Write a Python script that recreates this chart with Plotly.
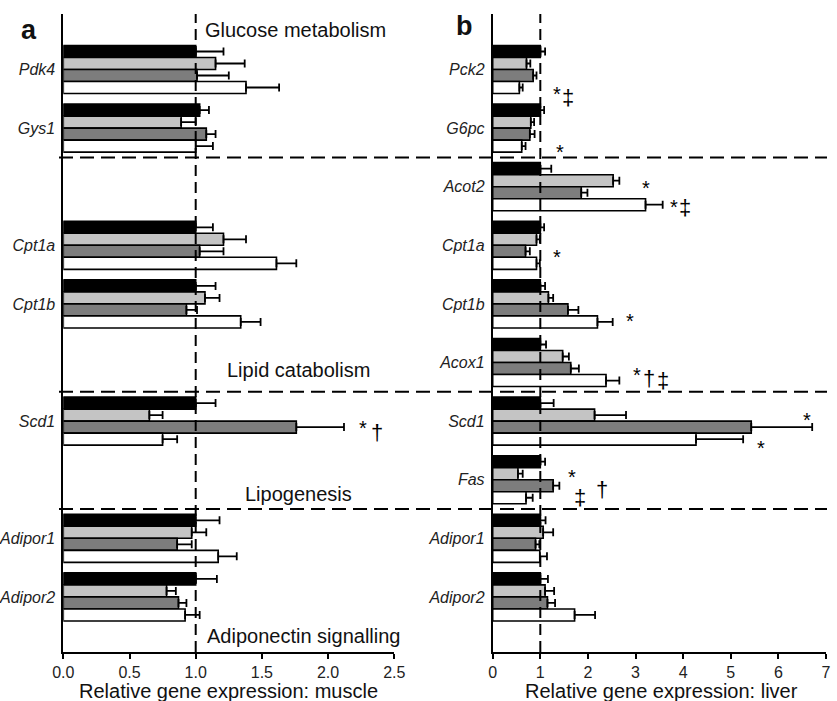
import plotly.graph_objects as go

# ---------------- data ----------------
rows = [0, 1, 2, 3, 4, 5, 6, 7, 8, 9]
muscle_genes = ["Pdk4", "Gys1", "", "Cpt1a", "Cpt1b", "", "Scd1", "", "Adipor1", "Adipor2"]
liver_genes = ["Pck2", "G6pc", "Acot2", "Cpt1a", "Cpt1b", "Acox1", "Scd1", "Fas", "Adipor1", "Adipor2"]
series_names = ["Group 1", "Group 2", "Group 3", "Group 4"]
series_colors = ["#000000", "#c4c4c4", "#7d7d7d", "#ffffff"]

muscle_g1 = [1.00, 1.03, None, 1.00, 1.00, None, 1.00, None, 1.00, 1.00]
muscle_g1_err = [0.21, 0.07, None, 0.13, 0.15, None, 0.15, None, 0.18, 0.16]
muscle_g2 = [1.15, 0.89, None, 1.21, 1.07, None, 0.65, None, 0.97, 0.78]
muscle_g2_err = [0.22, 0.11, None, 0.17, 0.11, None, 0.10, None, 0.11, 0.07]
muscle_g3 = [1.01, 1.08, None, 1.03, 0.93, None, 1.76, None, 0.86, 0.87]
muscle_g3_err = [0.24, 0.07, None, 0.18, 0.08, None, 0.36, None, 0.11, 0.06]
muscle_g4 = [1.38, 1.00, None, 1.61, 1.34, None, 0.75, None, 1.17, 0.92]
muscle_g4_err = [0.25, 0.13, None, 0.15, 0.15, None, 0.11, None, 0.14, 0.11]

liver_g1 = [1.00, 1.00, 1.00, 1.00, 1.00, 1.00, 1.00, 1.00, 1.00, 1.00]
liver_g1_err = [0.10, 0.08, 0.23, 0.08, 0.10, 0.12, 0.28, 0.10, 0.11, 0.16]
liver_g2 = [0.71, 0.80, 2.53, 0.92, 1.17, 1.47, 2.14, 0.53, 1.06, 1.10]
liver_g2_err = [0.08, 0.07, 0.13, 0.07, 0.10, 0.13, 0.66, 0.10, 0.21, 0.19]
liver_g3 = [0.85, 0.78, 1.86, 0.69, 1.58, 1.64, 5.43, 1.27, 0.90, 1.15]
liver_g3_err = [0.07, 0.10, 0.13, 0.09, 0.22, 0.17, 1.28, 0.13, 0.08, 0.16]
liver_g4 = [0.56, 0.61, 3.21, 0.92, 2.20, 2.38, 4.27, 0.70, 0.99, 1.72]
liver_g4_err = [0.07, 0.08, 0.36, 0.07, 0.32, 0.28, 0.99, 0.14, 0.15, 0.43]

muscle_ticks = [0, 0.5, 1.0, 1.5, 2.0, 2.5]
muscle_ticklabels = ["0.0", "0.5", "1.0", "1.5", "2.0", "2.5"]
liver_ticks = [0, 1, 2, 3, 4, 5, 6, 7]
liver_ticklabels = ["0", "1", "2", "3", "4", "5", "6", "7"]

# significance marks: (symbol, value position, row position)
muscle_marks = [("*", 2.26, 6.03), ("†", 2.37, 6.20)]
liver_marks = [
    ("*", 1.34, 0.33), ("‡", 1.59, 0.47),
    ("*", 1.41, 1.32),
    ("*", 3.23, 1.94), ("*", 3.81, 2.26), ("‡", 4.04, 2.36),
    ("*", 1.36, 3.11),
    ("*", 2.88, 4.21),
    ("*", 3.04, 5.13), ("†", 3.28, 5.28), ("‡", 3.57, 5.30),
    ("*", 6.61, 5.90), ("*", 5.63, 6.37),
    ("*", 1.66, 6.87), ("‡", 1.83, 7.31), ("†", 2.30, 7.16),
]

section_labels = [
    ("Glucose metabolism", 1.055, -0.67),
    ("Lipid catabolism", 1.22, 5.13),
    ("Lipogenesis", 1.357, 7.25),
    ("Adiponectin signalling", 1.07, 9.67),
]

# ---------------- figure ----------------
W, H = 837, 701
FONT = "Liberation Sans, Arial, sans-serif"

fig = go.Figure()

muscle_vals = [muscle_g1, muscle_g2, muscle_g3, muscle_g4]
muscle_errs = [muscle_g1_err, muscle_g2_err, muscle_g3_err, muscle_g4_err]
liver_vals = [liver_g1, liver_g2, liver_g3, liver_g4]
liver_errs = [liver_g1_err, liver_g2_err, liver_g3_err, liver_g4_err]

for k in range(4):
    fig.add_trace(go.Bar(
        x=muscle_vals[k], y=rows, orientation="h", name=series_names[k],
        marker=dict(color=series_colors[k], line=dict(color="black", width=1.6)),
        error_x=dict(type="data", symmetric=False, array=muscle_errs[k],
                     arrayminus=[0] * len(rows), thickness=1.8, width=4, color="black"),
        xaxis="x", yaxis="y", showlegend=False,
    ))
for k in range(4):
    fig.add_trace(go.Bar(
        x=liver_vals[k], y=rows, orientation="h", name=series_names[k],
        marker=dict(color=series_colors[k], line=dict(color="black", width=1.6)),
        error_x=dict(type="data", symmetric=False, array=liver_errs[k],
                     arrayminus=[0] * len(rows), thickness=1.8, width=4, color="black"),
        xaxis="x2", yaxis="y2", showlegend=False,
    ))

def px_x(p):
    return p / W

def px_y(p):
    return 1 - p / H

yrange = [9.94, -0.947]
ydom = [px_y(652), px_y(14)]

axis_common = dict(
    showline=True, linecolor="black", linewidth=1.8, ticks="outside", ticklen=5,
    tickwidth=1.8, tickcolor="black", showgrid=False, zeroline=False,
    tickfont=dict(family=FONT, size=16, color="#222222"), automargin=False,
)

fig.update_layout(
    width=W, height=H,
    margin=dict(l=0, r=0, t=0, b=0),
    paper_bgcolor="white", plot_bgcolor="rgba(0,0,0,0)",
    barmode="group", bargap=0.18, bargroupgap=0.0,
    font=dict(family=FONT, color="black"),
    xaxis=dict(domain=[px_x(63.3), px_x(394.3)], range=[0, 2.5],
               tickvals=muscle_ticks, ticktext=muscle_ticklabels, anchor="y", **axis_common),
    xaxis2=dict(domain=[px_x(492.7), px_x(826)], range=[0, 7],
                tickvals=liver_ticks, ticktext=liver_ticklabels, anchor="y2", **axis_common),
    yaxis=dict(domain=ydom, range=yrange, anchor="x", showline=True, linecolor="black",
               linewidth=1.8, ticks="", showgrid=False, zeroline=False,
               tickvals=rows, ticktext=["<i>%s</i>" % g for g in muscle_genes],
               tickfont=dict(family=FONT, size=16, color="#222222"),
               ticklabelstandoff=3, automargin=False),
    yaxis2=dict(domain=ydom, range=yrange, anchor="x2", showline=True, linecolor="black",
                linewidth=1.8, ticks="", showgrid=False, zeroline=False,
                tickvals=rows, ticktext=["<i>%s</i>" % g for g in liver_genes],
                tickfont=dict(family=FONT, size=16, color="#222222"),
                ticklabelstandoff=3, automargin=False),
)

# vertical reference lines at 1.0
for xr, yr in [("x", "y domain"), ("x2", "y2 domain")]:
    fig.add_shape(type="line", xref=xr, yref=yr, x0=1, x1=1, y0=0, y1=1,
                  line=dict(color="black", width=2, dash="11px,6px"))

# horizontal section separators
for yv in [1.5, 5.5, 7.5]:
    fig.add_shape(type="line", xref="paper", yref="y", x0=px_x(59), x1=px_x(827),
                  y0=yv, y1=yv, line=dict(color="black", width=2, dash="14px,7px"))

annotations = []
for text, xv, yv in section_labels:
    annotations.append(dict(text=text, x=xv, y=yv, xref="x", yref="y", xanchor="left",
                            yanchor="middle", showarrow=False,
                            font=dict(family=FONT, size=20, color="#111111")))

def mark(sym, xv, yv, xr, yr):
    if sym == "*":
        return dict(text="*", x=xv, y=yv, xref=xr, yref=yr, showarrow=False,
                    xanchor="center", yanchor="middle", yshift=-5,
                    font=dict(family=FONT, size=20, color="#000000"))
    return dict(text=sym, x=xv, y=yv, xref=xr, yref=yr, showarrow=False,
                xanchor="center", yanchor="middle",
                font=dict(family=FONT, size=22, color="#000000"))

for s, xv, yv in muscle_marks:
    annotations.append(mark(s, xv, yv, "x", "y"))
for s, xv, yv in liver_marks:
    annotations.append(mark(s, xv, yv, "x2", "y2"))

def paper_text(text, xp, yp, size):
    return dict(text=text, x=px_x(xp), y=px_y(yp), xref="paper", yref="paper",
                xanchor="center", yanchor="middle", showarrow=False,
                font=dict(family=FONT, size=size, color="#111111"))

annotations.append(paper_text("<b>a</b>", 28.5, 30, 27))
annotations.append(paper_text("<b>b</b>", 464, 26, 27))
annotations.append(paper_text("Relative gene expression: muscle", 228, 691, 20))
annotations.append(paper_text("Relative gene expression: liver", 661, 691, 20))

fig.update_layout(annotations=annotations)

# remove the default page margin so the figure fills the window exactly
fig.write_html("out.html", config={"displayModeBar": False},
               post_script="document.body.style.margin='0px';")
